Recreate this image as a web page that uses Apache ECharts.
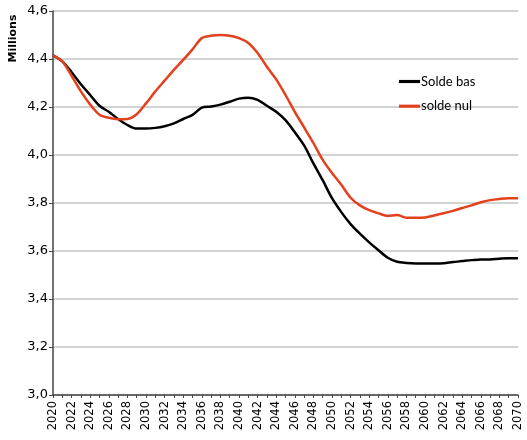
<!DOCTYPE html>
<html>
<head>
<meta charset="utf-8">
<script src="https://cdn.jsdelivr.net/npm/echarts@6/dist/echarts.min.js"></script>
<style>html,body{margin:0;padding:0;background:#fff;}#c{width:527px;height:440px;}</style>
</head>
<body>
<div id="c"></div>
<script>
var years = [];
for (var y = 2020; y <= 2070; y++) years.push(String(y));

var soldeBas = [4.415,4.39,4.345,4.295,4.25,4.205,4.18,4.15,4.125,4.11,
  4.11,4.113,4.12,4.132,4.15,4.167,4.197,4.202,4.21,4.222,
  4.235,4.239,4.23,4.205,4.18,4.145,4.095,4.04,3.965,3.895,
  3.82,3.762,3.712,3.672,3.636,3.603,3.572,3.555,3.55,3.548,
  3.548,3.548,3.549,3.554,3.558,3.562,3.565,3.565,3.568,3.57,3.57];

var soldeNul = [4.415,4.39,4.33,4.265,4.21,4.168,4.155,4.149,4.15,4.17,
  4.215,4.265,4.31,4.355,4.396,4.44,4.487,4.497,4.5,4.497,
  4.487,4.467,4.425,4.368,4.315,4.25,4.18,4.115,4.05,3.98,
  3.925,3.876,3.822,3.79,3.77,3.757,3.746,3.75,3.739,3.739,
  3.74,3.748,3.757,3.767,3.779,3.79,3.803,3.812,3.817,3.82,3.82];

var seriesNames = ['Solde bas', 'solde nul'];
var yTitle = 'Millions';

var chart = echarts.init(document.getElementById('c'));
var font = 'DejaVu Sans';
chart.setOption({
  animation: false,
  backgroundColor: '#fff',
  grid: { left: 53, right: 9, top: 11, bottom: 45, containLabel: false },
  legend: {
    orient: 'vertical',
    left: 394,
    top: 70,
    itemGap: 11.7,
    itemWidth: 21,
    itemHeight: 14,
    textStyle: { fontFamily: 'Lato', fontSize: 13, color: '#000', padding: [0,0,0,-4] },
    data: seriesNames.map(function(n){ return { name: n, icon: 'path://M0,6L20,6L20,9L0,9Z' }; })
  },
  graphic: [{
    type: 'text',
    x: 13.5, y: 38.5,
    rotation: Math.PI / 2,
    style: {
      text: yTitle,
      font: 'bold 11px ' + font,
      fill: '#000',
      textAlign: 'center',
      textVerticalAlign: 'middle'
    }
  }],
  xAxis: {
    type: 'category',
    data: years,
    boundaryGap: false,
    axisLine: { lineStyle: { color: '#444', width: 1.5 } },
    axisTick: { show: true, interval: 0, length: 3, lineStyle: { color: '#444' } },
    axisLabel: { interval: 1, rotate: 90, margin: 6, fontFamily: font, fontSize: 11.5, color: '#000' },
    splitLine: { show: false }
  },
  yAxis: {
    type: 'value',
    min: 3,
    max: 4.6,
    interval: 0.2,
    axisLine: { show: true, lineStyle: { color: '#444', width: 1.5 } },
    axisTick: { show: true, length: 4, lineStyle: { color: '#444' } },
    axisLabel: {
      margin: 5, fontFamily: font, fontSize: 13, color: '#000',
      formatter: function(v){ return v.toFixed(1).replace('.', ','); }
    },
    splitLine: { lineStyle: { color: '#c4c4c4', width: 1.5 } }
  },
  series: [
    { name: seriesNames[0], type: 'line', data: soldeBas, smooth: 0.3, symbol: 'none',
      lineStyle: { color: '#000', width: 2.5 }, itemStyle: { color: '#000' } },
    { name: seriesNames[1], type: 'line', data: soldeNul, smooth: 0.3, symbol: 'none',
      lineStyle: { color: '#E3401E', width: 2.5 }, itemStyle: { color: '#E3401E' } }
  ]
});
</script>
</body>
</html>
